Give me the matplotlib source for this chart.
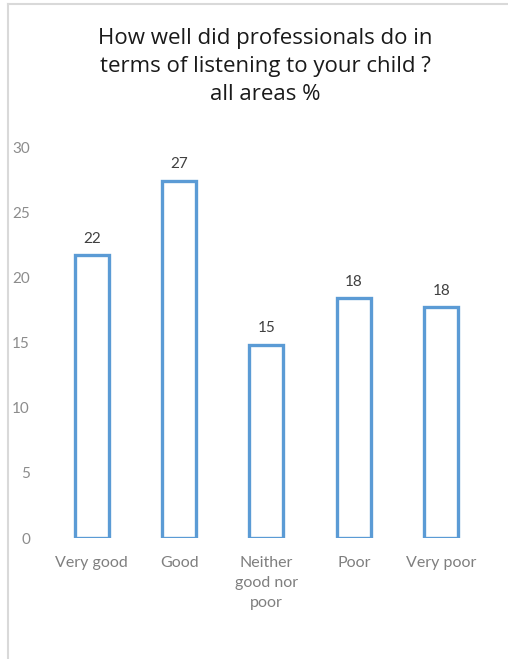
import matplotlib
matplotlib.use("Agg")
import matplotlib.pyplot as plt
from matplotlib.lines import Line2D

categories = ["Very good", "Good", "Neither\ngood nor\npoor", "Poor", "Very poor"]
values = [21.7, 27.4, 14.8, 18.4, 17.7]
value_labels = ["22", "27", "15", "18", "18"]
yticks = [0, 5, 10, 15, 20, 25, 30]
title = "How well did professionals do in\nterms of listening to your child ?\nall areas %"

plt.rcParams['font.family'] = ['Lato', 'DejaVu Sans']

fig = plt.figure(figsize=(5.08, 6.59), dpi=100)
ax = fig.add_axes([0.0945, 0.1836, 0.860, 0.593])

x = list(range(len(categories)))
bars = ax.bar(x, values, width=0.39, facecolor="white", edgecolor="#5b9bd5", linewidth=2.4)
for xi, v, lab in zip(x, values, value_labels):
    ax.annotate(lab, (xi, v), xytext=(0, 7), textcoords="offset points",
                ha="center", va="bottom", fontsize=11, color="#404040")

ax.set_xlim(-0.5, len(categories) - 0.5)
ax.set_ylim(0, 30)
ax.set_yticks(yticks)
ax.set_xticks(x)
ax.set_xticklabels(categories, fontsize=11.5, color="#7f7f7f", linespacing=1.55)
ax.tick_params(axis="y", labelsize=11, labelcolor="#8c8c8c", length=0, pad=13)
ax.tick_params(axis="x", length=0, pad=13)
for s in ax.spines.values():
    s.set_visible(False)

fig.text(0.522, 0.958, title, ha="center", va="top", fontsize=16, color="#1a1a1a",
         linespacing=1.45, family=['Open Sans', 'DejaVu Sans'])

# outer border lines (left and top)
fig.add_artist(Line2D([8/508, 8/508], [0, 1 - 4/659], transform=fig.transFigure, color="#d9d9d9", lw=1.5))
fig.add_artist(Line2D([8/508, 1], [1 - 4/659, 1 - 4/659], transform=fig.transFigure, color="#d9d9d9", lw=1.5))

fig.savefig("out.png", dpi=100, facecolor="white")
